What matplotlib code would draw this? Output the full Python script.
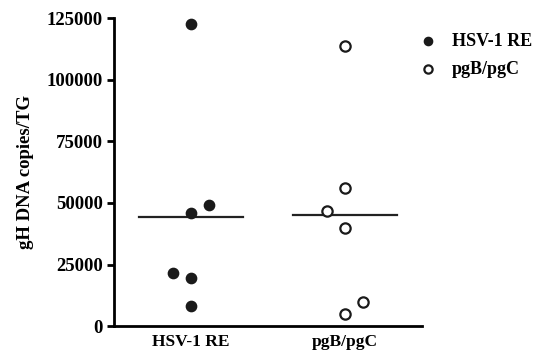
import matplotlib
matplotlib.use('Agg')
from matplotlib import pyplot as plt
import numpy as np

groups = ['HSV-1 RE', 'pgB/pgC']
hsv_vals = [122500, 46000, 49000, 21500, 19700, 8200]
hsv_pos = [0, 0, 1, -1, 0, 0]
pg_vals = [113500, 56000, 46700, 40000, 9700, 5000]
pg_pos = [0, 0, -1, 0, 1, 0]
yticks = [0, 25000, 50000, 75000, 100000, 125000]

plt.rcParams['font.family'] = ['Liberation Serif', 'DejaVu Serif']
plt.rcParams['font.weight'] = 'bold'

fig = plt.figure(figsize=(5.35, 3.56), dpi=100)
ax = fig.add_axes([0.213, 0.084, 0.576, 0.865])

jit = 0.115
ax.scatter(1 + np.array(hsv_pos) * jit, hsv_vals, s=55, c='#1a1a1a',
           edgecolors='#1a1a1a', label=groups[0], zorder=3)
ax.scatter(2 + np.array(pg_pos) * jit, pg_vals, s=55, facecolors='white',
           edgecolors='#1a1a1a', linewidths=1.6, label=groups[1], zorder=3)

# mean lines
for i, vals in enumerate([hsv_vals, pg_vals]):
    m = np.mean(vals)
    ax.plot([i + 1 - 0.34, i + 1 + 0.34], [m, m], color='#222222', lw=1.6, zorder=2)

ax.set_xlim(0.5, 2.5)
ax.set_ylim(0, 125000)
ax.set_yticks(yticks)
ax.set_yticklabels([str(t) for t in yticks], fontsize=13.5, fontweight='bold')
ax.set_xticks([1, 2])
ax.set_xticklabels(groups, fontsize=12.5, fontweight='bold')
ax.tick_params(axis='x', length=0, pad=6)
ax.tick_params(axis='y', length=5, width=2, pad=3)
ax.spines['top'].set_visible(False)
ax.spines['right'].set_visible(False)
ax.spines['left'].set_linewidth(2)
ax.spines['bottom'].set_linewidth(2)
ax.set_ylabel('gH DNA copies/TG', fontsize=13.5, fontweight='bold')
ax.yaxis.set_label_coords(-0.258, 0.5)

ax.legend(loc='upper left', bbox_to_anchor=(419.3 / 535, 1 - 33 / 356),
          bbox_transform=fig.transFigure, frameon=False, fontsize=13,
          handlelength=1.0, handletextpad=0.8, borderpad=0, borderaxespad=0,
          labelspacing=0.6, markerscale=0.8)

fig.savefig('out.png', dpi=100)
